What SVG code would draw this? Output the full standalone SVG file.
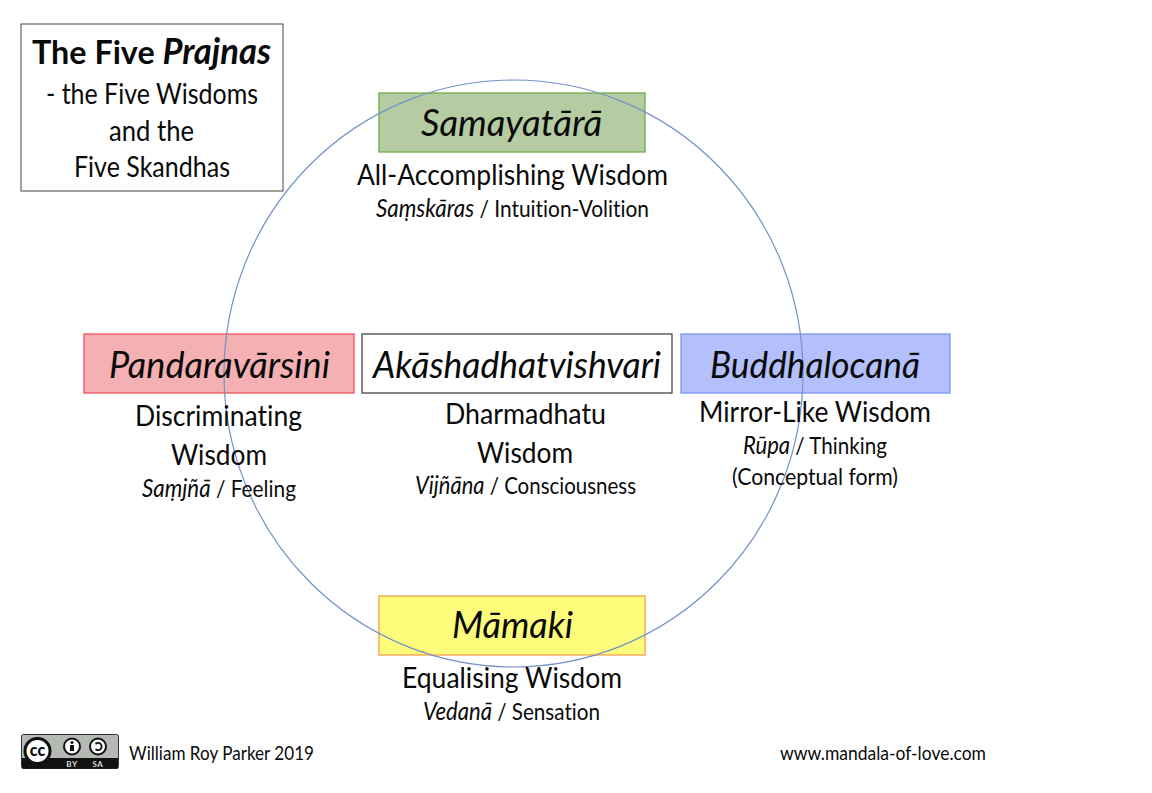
<svg xmlns="http://www.w3.org/2000/svg" width="1152" height="793" viewBox="0 0 1152 793">
<style>
text{font-family:"Lato","Noto Sans","Open Sans",sans-serif;fill:#0a0a0a;font-variant-ligatures:none}
.i{font-style:italic;font-size:1.07em}
.h{font-size:37px;font-style:italic}
.w{font-size:29px}
.s{font-size:23px}
.t{font-size:28px}
.f{font-size:20px}
.b{stroke-width:1.3}
.badge{font-weight:700;fill:#ddd;font-size:8px;letter-spacing:.6px}
</style>
<rect width="1152" height="793" fill="#fff"/>
<g id="title">
<rect x="21" y="24" width="262" height="167" fill="#fff" stroke="#444" stroke-width="1"/>
<text x="32" y="64" font-size="33" font-weight="700" textLength="239" lengthAdjust="spacingAndGlyphs">The Five <tspan class="i">Prajnas</tspan></text>
<text class="t" x="46" y="104" textLength="212" lengthAdjust="spacingAndGlyphs">- the Five Wisdoms</text>
<text class="t" x="109" y="141" textLength="85" lengthAdjust="spacingAndGlyphs">and the</text>
<text class="t" x="74" y="177" textLength="156" lengthAdjust="spacingAndGlyphs">Five Skandhas</text>
</g>
<g id="node-samayatara">
<rect class="b" x="379" y="93" width="266" height="59" fill="#b5cca3" stroke="#70ad47"/>
</g>
<g id="node-pandaravarsini">
<rect class="b" x="84" y="334" width="270" height="59" fill="#f4b0b3" stroke="#f0525a"/>
</g>
<g id="node-akashadhatvishvari">
<rect class="b" x="362" y="334" width="310" height="59" fill="#fff" stroke="#444"/>
</g>
<g id="node-buddhalocana">
<rect class="b" x="681" y="334" width="269" height="59" fill="#b4c0fb" stroke="#7f93f5"/>
</g>
<g id="node-mamaki">
<rect class="b" x="379" y="596" width="266" height="59" fill="#fdfd7b" stroke="#f4a04a"/>
</g>
<g id="connectors">
<ellipse cx="513.5" cy="373.5" rx="289.5" ry="293.5" fill="none" stroke="#7392c9" stroke-width="1.2"/>
</g>
<g id="labels">
<text class="h" x="421" y="136" textLength="181" lengthAdjust="spacingAndGlyphs">Samayatārā</text>
<text class="w" x="357" y="185" textLength="311" lengthAdjust="spacingAndGlyphs">All-Accomplishing Wisdom</text>
<text class="s" x="376" y="217" textLength="273" lengthAdjust="spacingAndGlyphs"><tspan class="i">Saṃskāras</tspan> / Intuition-Volition</text>
<text class="h" x="109" y="378" textLength="221" lengthAdjust="spacingAndGlyphs">Pandaravārsini</text>
<text class="w" x="135" y="426" textLength="167" lengthAdjust="spacingAndGlyphs">Discriminating</text>
<text class="w" x="171" y="465" textLength="96" lengthAdjust="spacingAndGlyphs">Wisdom</text>
<text class="s" x="142" y="497" textLength="154" lengthAdjust="spacingAndGlyphs"><tspan class="i">Saṃjñā</tspan> / Feeling</text>
<text class="h" x="373" y="378" textLength="288" lengthAdjust="spacingAndGlyphs">Akāshadhatvishvari</text>
<text class="w" x="445" y="424" textLength="161" lengthAdjust="spacingAndGlyphs">Dharmadhatu</text>
<text class="w" x="477" y="463" textLength="96" lengthAdjust="spacingAndGlyphs">Wisdom</text>
<text class="s" x="415" y="494" textLength="221" lengthAdjust="spacingAndGlyphs"><tspan class="i">Vijñāna</tspan> / Consciousness</text>
<text class="h" x="710" y="378" textLength="210" lengthAdjust="spacingAndGlyphs">Buddhalocanā</text>
<text class="w" x="699" y="422" textLength="232" lengthAdjust="spacingAndGlyphs">Mirror-Like Wisdom</text>
<text class="s" x="743" y="454" textLength="144" lengthAdjust="spacingAndGlyphs"><tspan class="i">Rūpa</tspan> / Thinking</text>
<text class="s" x="732" y="485" textLength="166" lengthAdjust="spacingAndGlyphs">(Conceptual form)</text>
<text class="h" x="452" y="638" textLength="121" lengthAdjust="spacingAndGlyphs">Māmaki</text>
<text class="w" x="402" y="688" textLength="220" lengthAdjust="spacingAndGlyphs">Equalising Wisdom</text>
<text class="s" x="423" y="720" textLength="177" lengthAdjust="spacingAndGlyphs"><tspan class="i">Vedanā</tspan> / Sensation</text>
</g>
<g id="footer">
<rect x="21.5" y="734.5" width="97" height="34" rx="2" fill="#b4bab3" stroke="#333"/>
<rect x="22" y="758" width="96" height="10.5" fill="#111"/>
<circle cx="37.5" cy="751" r="12.5" fill="#fff" stroke="#111" stroke-width="3"/>
<text x="37.5" y="756" text-anchor="middle" font-size="16" font-weight="900">cc</text>
<circle cx="72" cy="746.5" r="8" fill="#fff" stroke="#111" stroke-width="2"/>
<circle cx="72" cy="742.5" r="1.6" fill="#111"/>
<rect x="70" y="745" width="4" height="6" fill="#111"/>
<circle cx="98" cy="746.5" r="8" fill="#fff" stroke="#111" stroke-width="2"/>
<path d="M95.5 744a3.6 3.6 0 1 1 0 5" fill="none" stroke="#111" stroke-width="1.8"/>
<text class="badge" x="72" y="767" text-anchor="middle">BY</text>
<text class="badge" x="98" y="767" text-anchor="middle">SA</text>
<text class="f" x="129" y="760" textLength="185" lengthAdjust="spacingAndGlyphs">William Roy Parker 2019</text>
<text class="f" x="780" y="760" textLength="206" lengthAdjust="spacingAndGlyphs">www.mandala-of-love.com</text>
</g>
</svg>
